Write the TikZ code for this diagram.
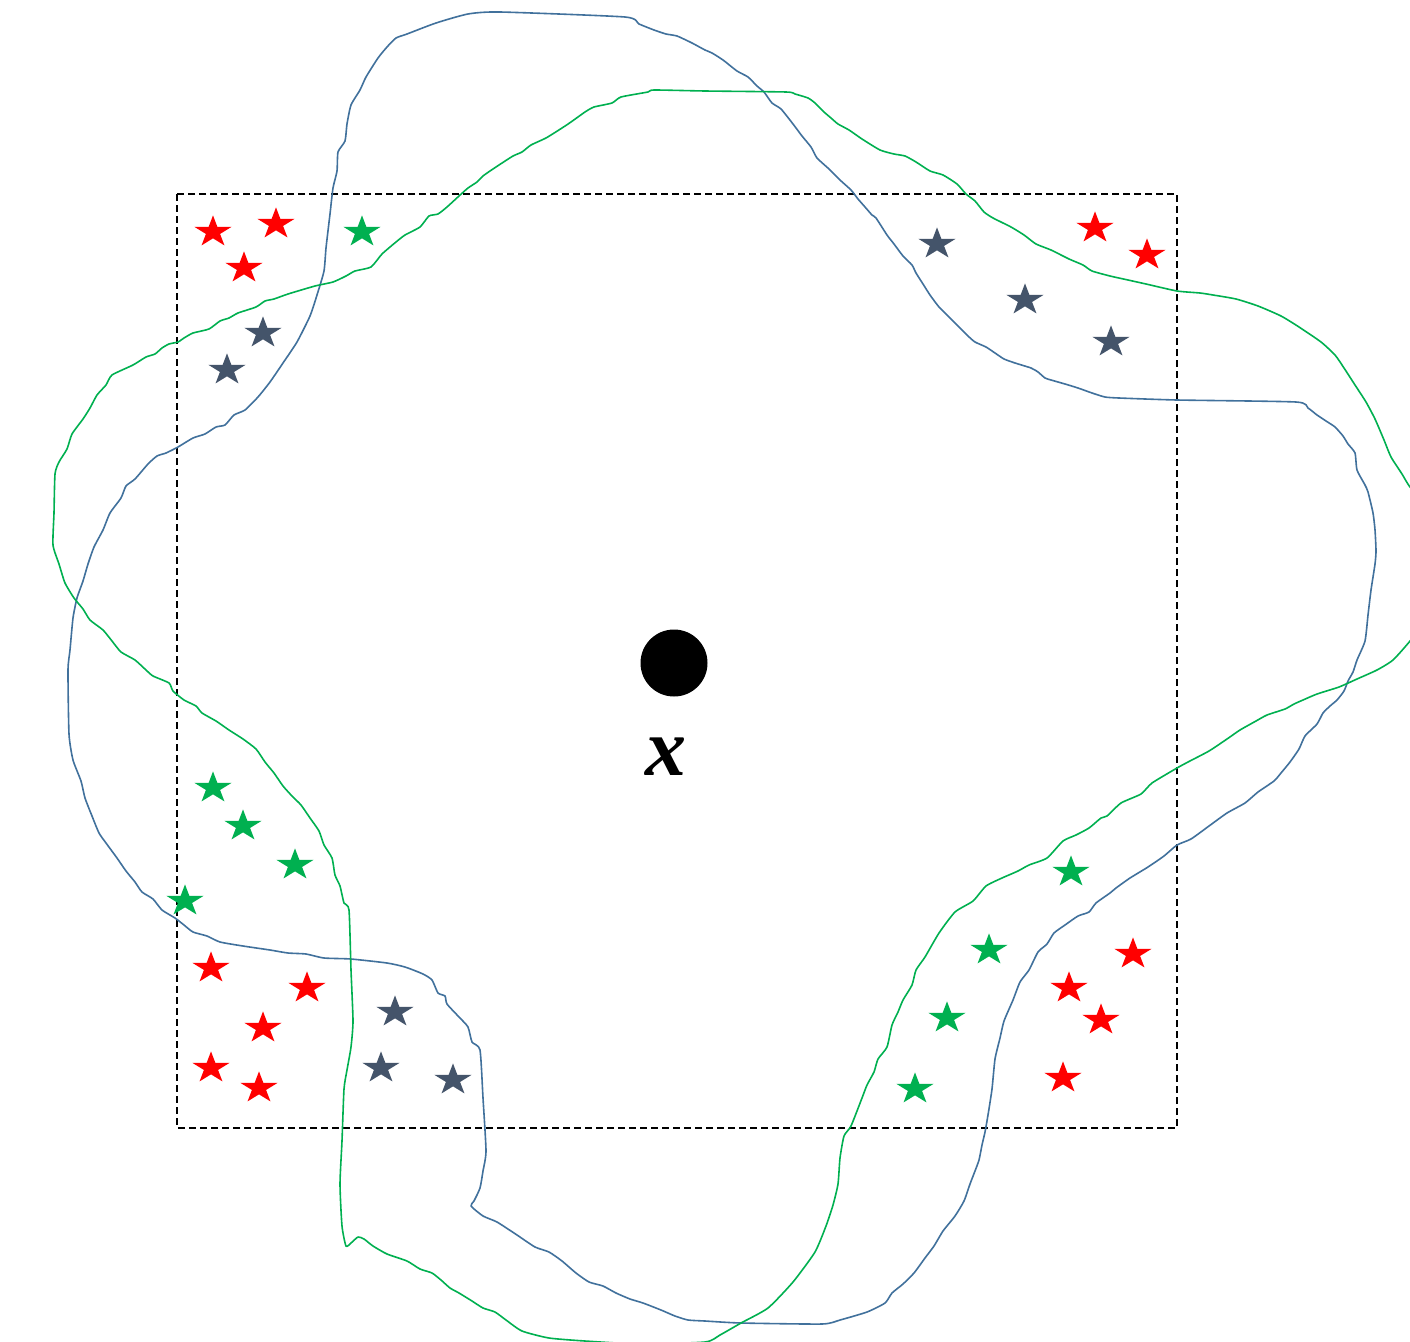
\documentclass[tikz,border=0pt]{standalone}
\usepackage{fontspec}
\newfontfamily\labelfont{Liberation Serif}
\usetikzlibrary{shapes.geometric}
\definecolor{cblue}{RGB}{65,113,156}
\definecolor{cgreen}{RGB}{0,176,80}
\definecolor{cdark}{RGB}{68,84,106}
\definecolor{cred}{RGB}{255,0,0}
\tikzset{
  starmark/.style={star, star points=5, star point ratio=2.618, minimum size=39pt,
    inner sep=0pt, draw=none, fill=#1, yscale=0.85, transform shape},
  bluecurve/.style={draw=cblue, line width=1.6pt, line join=round},
  greencurve/.style={draw=cgreen, line width=1.6pt, line join=round},
  region/.style={draw=black, line width=1.4pt, dash pattern=on 7pt off 4pt}
}
\begin{document}
\begin{tikzpicture}[x=1pt, y=-1pt]
\useasboundingbox (0,0) rectangle (1410,1341);
\clip (0,0) rectangle (1410,1341);
\fill[white] (0,0) rectangle (1410,1341);

% dashed region
\draw[region] (177,194) rectangle (1177,1128);

% blue loop
\draw[bluecurve] plot[smooth cycle, tension=0.35] coordinates {
(500,12) (468,14) (436,23) (407,34) (396,38) (387,47) (378,58) (366,77) (360,90) (351,105) (347,124) (345,141) (338,152) (337,171) (333,188) (330,214) (326,248) (324,271) (317,295) (310,316) (297,342) (283,363) (270,382) (258,397) (245,410) (234,415) (225,425) (216,427) (205,434) (193,438) (178,447) (166,453) (157,456) (148,464) (135,479) (126,486) (121,498) (110,513) (103,530) (94,547) (88,564) (83,581) (77,598) (73,618) (70,650) (68,670) (69,734) (73,760) (81,781) (85,798) (92,816) (99,833) (106,843) (117,858) (126,871) (135,882) (142,892) (153,899) (162,910) (175,918) (184,925) (193,932) (207,936) (220,942) (243,946) (270,950) (288,953) (306,954) (324,958) (351,959) (387,963) (405,967) (423,974) (432,980) (438,993) (445,996) (447,1004) (459,1017) (468,1027) (472,1042) (480,1050) (483,1098) (486,1151) (483,1171) (480,1188) (474,1201) (471,1206) (483,1216) (497,1222) (517,1235) (535,1247) (549,1252) (562,1261) (576,1273) (589,1282) (603,1286) (616,1293) (630,1299) (643,1303) (661,1310) (675,1316) (688,1320) (705,1321) (741,1323) (822,1324) (840,1320) (867,1312) (885,1303) (892,1293) (903,1284) (914,1273) (925,1258) (934,1246) (943,1231) (955,1216) (964,1201) (970,1184) (975,1171) (979,1160) (982,1145) (985,1132) (988,1115) (992,1089) (995,1059) (1000,1038) (1004,1021) (1013,1000) (1020,982) (1029,970) (1038,952) (1047,944) (1054,933) (1065,925) (1078,916) (1089,912) (1096,903) (1110,893) (1116,888) (1130,878) (1148,867) (1164,856) (1177,845) (1191,839) (1209,826) (1227,813) (1245,803) (1258,792) (1274,781) (1281,773) (1290,762) (1299,749) (1305,736) (1317,724) (1323,713) (1330,706) (1337,700) (1344,691) (1348,681) (1353,672) (1357,660) (1365,641) (1368,615) (1371,590) (1375,564) (1376,551) (1375,530) (1373,513) (1368,492) (1365,485) (1357,470) (1355,453) (1348,444) (1343,436) (1335,427) (1326,421) (1317,415) (1308,408) (1296,402) (1177,400) (1119,398) (1105,397) (1092,393) (1078,388) (1065,384) (1051,380) (1045,378) (1038,372) (1031,368) (1015,363) (1004,359) (995,353) (986,347) (975,342) (968,336) (959,327) (950,318) (939,307) (930,295) (923,284) (916,273) (912,265) (903,256) (894,244) (887,235) (876,218) (872,215) (865,207) (858,199) (851,190) (840,180) (829,169) (817,158) (811,147) (802,136) (793,124) (781,109) (772,103) (764,92) (757,86) (748,77) (737,71) (723,60) (712,53) (705,50) (692,43) (677,36) (666,34) (654,30) (639,24) (625,17)
};

% green loop
\draw[greencurve] plot[smooth cycle, tension=0.35] coordinates {
(705,91) (654,90) (648,92) (621,97) (612,103) (594,107) (585,112) (571,122) (562,128) (546,138) (531,145) (522,152) (513,156) (499,165) (490,171) (483,176) (477,182) (468,188) (459,196) (447,207) (438,214) (429,216) (420,227) (405,235) (396,242) (382,254) (371,267) (355,271) (346,276) (333,282) (315,286) (288,294) (274,299) (265,301) (256,307) (238,313) (229,318) (220,321) (209,329) (193,333) (184,338) (178,342) (169,344) (162,348) (155,354) (146,357) (133,365) (112,375) (106,385) (97,395) (90,408) (83,419) (72,434) (67,449) (59,462) (55,474) (54,513) (53,545) (59,564) (65,583) (74,598) (83,609) (90,620) (103,630) (112,641) (121,652) (135,660) (146,670) (153,676) (169,683) (173,691) (184,700) (196,706) (202,713) (216,721) (229,730) (243,739) (256,749) (265,762) (274,773) (283,786) (292,796) (301,805) (310,818) (319,831) (324,845) (332,858) (335,875) (340,886) (344,903) (349,910) (351,970) (353,1021) (351,1047) (347,1070) (344,1089) (342,1141) (340,1184) (342,1226) (346,1246) (351,1243) (358,1237) (364,1239) (373,1246) (387,1254) (407,1261) (420,1269) (432,1273) (441,1280) (450,1288) (459,1293) (472,1301) (483,1308) (495,1312) (506,1320) (522,1331) (549,1338) (585,1341) (640,1344) (705,1342) (720,1335) (741,1323) (768,1308) (793,1282) (815,1252) (826,1226) (833,1205) (838,1184) (840,1158) (844,1136) (851,1126) (862,1098) (867,1085) (874,1072) (878,1059) (887,1047) (892,1025) (898,1012) (903,1000) (912,985) (916,970) (925,957) (939,933) (955,912) (973,901) (986,886) (1002,878) (1018,871) (1029,865) (1047,858) (1063,841) (1076,835) (1089,828) (1101,818) (1107,816) (1121,803) (1141,794) (1152,783) (1177,768) (1188,762) (1209,751) (1227,739) (1240,730) (1256,721) (1267,715) (1285,709) (1294,704) (1303,700) (1317,694) (1339,687) (1357,679) (1377,670) (1393,660) (1410,641) (1425,620) (1430,560) (1425,500) (1410,487) (1402,474) (1391,457) (1384,440) (1375,419) (1366,402) (1355,385) (1344,368) (1335,355) (1321,342) (1299,327) (1281,316) (1258,306) (1236,299) (1213,295) (1200,293) (1177,291) (1146,284) (1128,280) (1110,276) (1092,271) (1083,265) (1069,259) (1051,250) (1036,244) (1024,235) (1011,227) (993,218) (984,212) (975,201) (966,194) (957,184) (943,175) (930,171) (916,162) (905,156) (894,154) (880,150) (862,139) (849,130) (838,124) (831,118) (824,112) (815,103) (808,98) (795,94) (786,92)
};

% stars top-left
\node[starmark=cred] (r1) at (213,232) {};
\node[starmark=cred] (r2) at (276,224) {};
\node[starmark=cred] (r3) at (244,268) {};
\node[starmark=cgreen] (g1) at (362,232) {};
\node[starmark=cdark] (d1) at (263,333) {};
\node[starmark=cdark] (d2) at (227,370) {};
% stars top-right
\node[starmark=cred] (r4) at (1095,228) {};
\node[starmark=cred] (r5) at (1147,255) {};
\node[starmark=cdark] (d3) at (937,244) {};
\node[starmark=cdark] (d4) at (1025,300) {};
\node[starmark=cdark] (d5) at (1111,342) {};
% stars bottom-left
\node[starmark=cgreen] (g2) at (213,788) {};
\node[starmark=cgreen] (g3) at (243,826) {};
\node[starmark=cgreen] (g4) at (295,865) {};
\node[starmark=cgreen] (g5) at (185,901) {};
\node[starmark=cred] (r6) at (211,968) {};
\node[starmark=cred] (r7) at (307,988) {};
\node[starmark=cred] (r8) at (263,1028) {};
\node[starmark=cred] (r9) at (211,1068) {};
\node[starmark=cred] (r10) at (259,1088) {};
\node[starmark=cdark] (d6) at (395,1012) {};
\node[starmark=cdark] (d7) at (381,1068) {};
\node[starmark=cdark] (d8) at (453,1080) {};
% stars bottom-right
\node[starmark=cgreen] (g6) at (1071,872) {};
\node[starmark=cgreen] (g7) at (989,950) {};
\node[starmark=cgreen] (g8) at (947,1018) {};
\node[starmark=cgreen] (g9) at (915,1089) {};
\node[starmark=cred] (r11) at (1133,954) {};
\node[starmark=cred] (r12) at (1069,988) {};
\node[starmark=cred] (r13) at (1101,1020) {};
\node[starmark=cred] (r14) at (1063,1078) {};

% centre point and label
\node[circle, fill=black, minimum size=67pt, inner sep=0pt] (x) at (674,663) {};
\node[anchor=base, inner sep=0pt] (xl) at (666,775)
  {\labelfont\fontsize{82}{82}\selectfont\bfseries\itshape x};
\end{tikzpicture}
\end{document}
